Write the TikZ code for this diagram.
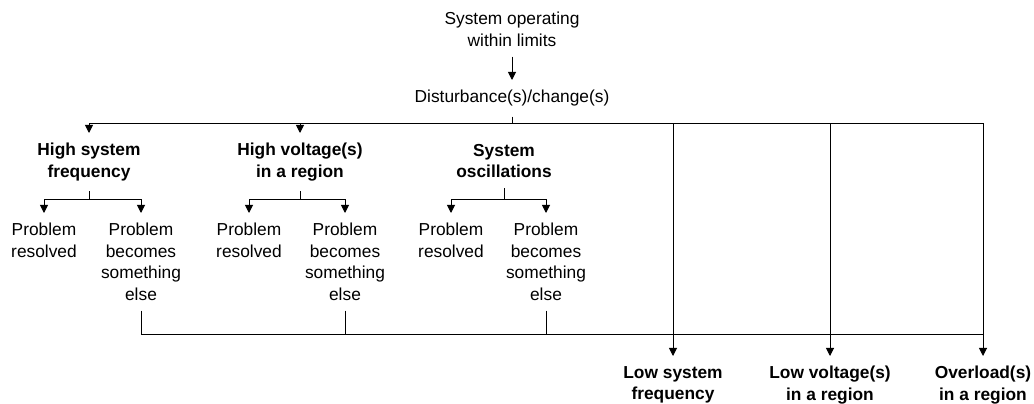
\documentclass[tikz,border=0pt]{standalone}
\usepackage{fontspec}
\setmainfont{Liberation Sans}
\usetikzlibrary{arrows.meta,positioning}

\begin{document}
\begin{tikzpicture}[x=0.03cm, y=-0.03cm]
	\tikzstyle{Label}	= [align=center, anchor=north, inner xsep=1pt, inner ysep=0.3cm, font=\fontsize{14.8}{18.3}\selectfont]
	\tikzstyle{Head}	= [Label, font=\fontsize{14.8}{18.3}\selectfont\bfseries]
	\tikzstyle{Wire}	= [line width=0.85pt, black]
	\tikzstyle{Flow}	= [Wire, -{Triangle[width=7pt, length=7pt]}]

	\useasboundingbox (0,0) rectangle (1034,404);

	% top of the tree
	\node (sys) at (512,2) [Label] {System operating\\within limits};
	\node (dist) at (512,80) [Label] {Disturbance(s)/change(s)};

	% first outcomes
	\node (hsf) at (89,133) [Head] {High system\\frequency};
	\node (hvr) at (300,133) [Head] {High voltage(s)\\in a region};
	\node (sos) at (504,134) [Head] {System\\oscillations};

	\node (pr1) at (44,213) [Label] {Problem\\resolved};
	\node (pb1) at (141,213) [Label] {Problem\\becomes\\something\\else};
	\node (pr2) at (249,213) [Label] {Problem\\resolved};
	\node (pb2) at (345,213) [Label] {Problem\\becomes\\something\\else};
	\node (pr3) at (451,213) [Label] {Problem\\resolved};
	\node (pb3) at (546,213) [Label] {Problem\\becomes\\something\\else};

	% second outcomes
	\node (lsf) at (673,356) [Head] {Low system\\frequency};
	\node (lvr) at (830,356) [Head] {Low voltage(s)\\in a region};
	\node (ovl) at (983,356) [Head] {Overload(s)\\in a region};

	\coordinate (j0) at (512,124);
	\coordinate (k1) at (89,200);
	\coordinate (k2) at (300,200);
	\coordinate (k3) at (504,200);
	\coordinate (b0) at (983,334);

	\draw [-] (sys) to (dist) [Flow];
	\draw [-] (dist) to (j0) [Wire];
	\draw [-] (j0) -| (hsf) [Flow];
	\draw [-] (j0) -| (hvr) [Flow];
	\draw [-] (j0) -| (lsf) [Flow];
	\draw [-] (j0) -| (lvr) [Flow];
	\draw [-] (j0) -| (ovl) [Flow];

	\draw [-] (hsf) to (k1) [Wire];
	\draw [-] (k1) -| (pr1) [Flow];
	\draw [-] (k1) -| (pb1) [Flow];
	\draw [-] (hvr) to (k2) [Wire];
	\draw [-] (k2) -| (pr2) [Flow];
	\draw [-] (k2) -| (pb2) [Flow];
	\draw [-] (sos) to (k3) [Wire];
	\draw [-] (k3) -| (pr3) [Flow];
	\draw [-] (k3) -| (pb3) [Flow];

	% way back down
	\draw [-] (pb1) |- (b0) [Wire];
	\draw [-] (pb2) |- (b0) [Wire];
	\draw [-] (pb3) |- (b0) [Wire];

\end{tikzpicture}
\end{document}
